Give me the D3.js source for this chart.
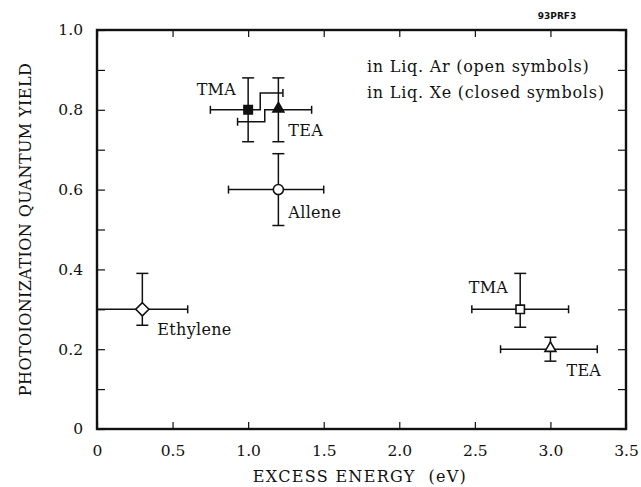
<!DOCTYPE html>
<html>
<head>
<meta charset="utf-8">
<script src="https://cdn.jsdelivr.net/npm/d3@7"></script>
<style>
  body { margin: 0; background: #fff; }
  text { font-family: "DejaVu Serif", serif; fill: #111; }
</style>
</head>
<body>
<svg id="chart"></svg>
<script>
// Data
const compounds = ["Ethylene", "Allene", "TMA", "TEA", "TMA", "TEA"];
const liquid = ["Ar", "Ar", "Xe", "Xe", "Ar", "Ar"];
const symbols = ["diamond", "circle", "square", "triangle", "square", "triangle"];
const excessEnergy = [0.3, 1.2, 1.0, 1.2, 2.8, 3.0];
const energyLow = [0.0, 0.87, 0.75, 0.93, 2.48, 2.67];
const energyHigh = [0.6, 1.5, 1.23, 1.42, 3.12, 3.31];
const quantumYield = [0.3, 0.6, 0.8, 0.8, 0.3, 0.2];
const yieldLow = [0.26, 0.51, 0.72, 0.72, 0.255, 0.17];
const yieldHigh = [0.39, 0.69, 0.88, 0.88, 0.39, 0.23];
// horizontal bars of the Xe points are stepped aside where they overlap
const stepSide = [null, null, "high", "low", null, null];
const stepEnergy = [null, null, 1.08, 1.11, null, null];
const stepYield = [null, null, 0.842, 0.77, null, null];

const xTicks = [0, 0.5, 1.0, 1.5, 2.0, 2.5, 3.0, 3.5];
const yTicks = [0, 0.2, 0.4, 0.6, 0.8, 1.0];
const yMinorTicks = [0.1, 0.3, 0.5, 0.7, 0.9];
const legendLines = ["in Liq. Ar (open symbols)", "in Liq. Xe (closed symbols)"];

const width = 641;
const height = 487;
const margin = { top: 30, right: 15, bottom: 58, left: 97 };

// label offsets (px) relative to each point
const labelPos = [
    { dx: 15, dy: 26, anchor: "start" },
    { dx: 10, dy: 28, anchor: "start" },
    { dx: -12, dy: -15, anchor: "end" },
    { dx: 10, dy: 26, anchor: "start" },
    { dx: -12, dy: -16, anchor: "end" },
    { dx: 16, dy: 27, anchor: "start" }
];

const points = compounds.map((c, i) => ({
    name: c,
    liquid: liquid[i],
    symbol: symbols[i],
    x: excessEnergy[i], xLo: energyLow[i], xHi: energyHigh[i],
    y: quantumYield[i], yLo: yieldLow[i], yHi: yieldHigh[i],
    step: stepSide[i], stepX: stepEnergy[i], stepY: stepYield[i],
    label: labelPos[i]
}));

const svg = d3.select("#chart")
    .attr("width", width)
    .attr("height", height);

const xScale = d3.scaleLinear()
    .domain([0, 3.5])
    .range([margin.left, width - margin.right]);

const yScale = d3.scaleLinear()
    .domain([0, 1.0])
    .range([height - margin.bottom, margin.top]);

const fmt = d => d === 0 ? "0" : d3.format(".1f")(d);

// Axes with inward ticks
svg.append("g")
    .attr("class", "x-axis")
    .attr("transform", `translate(0, ${yScale(0)})`)
    .call(d3.axisBottom(xScale).tickValues(xTicks).tickSizeInner(-7).tickSizeOuter(0).tickPadding(16).tickFormat(fmt));

svg.append("g")
    .attr("class", "x-axis-top")
    .attr("transform", `translate(0, ${yScale(1)})`)
    .call(d3.axisTop(xScale).tickValues(xTicks).tickSizeInner(-7).tickSizeOuter(0).tickFormat(""));

svg.append("g")
    .attr("class", "y-axis")
    .attr("transform", `translate(${xScale(0)}, 0)`)
    .call(d3.axisLeft(yScale).tickValues(yTicks.concat(yMinorTicks)).tickSizeInner(-8).tickSizeOuter(0).tickPadding(14)
        .tickFormat(d => yTicks.includes(d) ? fmt(d) : ""));

svg.append("g")
    .attr("class", "y-axis-right")
    .attr("transform", `translate(${xScale(3.5)}, 0)`)
    .call(d3.axisRight(yScale).tickValues(yTicks.concat(yMinorTicks)).tickSizeInner(-8).tickSizeOuter(0).tickFormat(""));

svg.selectAll(".domain").remove();
svg.selectAll(".tick line").attr("stroke", "#111").attr("stroke-width", 1.2);
svg.selectAll(".tick text").style("font-size", "15.5px").style("font-family", "DejaVu Serif, serif").attr("fill", "#111");

// Frame
svg.append("rect")
    .attr("x", xScale(0))
    .attr("y", yScale(1))
    .attr("width", xScale(3.5) - xScale(0))
    .attr("height", yScale(0) - yScale(1))
    .attr("fill", "none")
    .attr("stroke", "#111")
    .attr("stroke-width", 2.4);

// Error bars
const line = d3.line().x(d => xScale(d[0])).y(d => yScale(d[1]));
const capW = 6, capH = 4;
const bars = svg.append("g").attr("stroke", "#111").attr("stroke-width", 1.5).attr("fill", "none");

points.forEach(p => {
    // vertical bar
    bars.append("path").attr("d", line([[p.x, p.yLo], [p.x, p.yHi]]));
    [p.yLo, p.yHi].forEach(v => {
        bars.append("line")
            .attr("x1", xScale(p.x) - capW).attr("x2", xScale(p.x) + capW)
            .attr("y1", yScale(v)).attr("y2", yScale(v));
    });
    // horizontal bar, both halves
    [["low", p.xLo], ["high", p.xHi]].forEach(([side, end]) => {
        let pts, capY;
        if (p.step === side) {
            pts = [[p.x, p.y], [p.stepX, p.y], [p.stepX, p.stepY], [end, p.stepY]];
            capY = p.stepY;
        } else {
            pts = [[p.x, p.y], [end, p.y]];
            capY = p.y;
        }
        bars.append("path").attr("d", line(pts));
        bars.append("line")
            .attr("x1", xScale(end)).attr("x2", xScale(end))
            .attr("y1", yScale(capY) - capH).attr("y2", yScale(capY) + capH);
    });
});

// Markers
const symbolType = {
    diamond: d3.symbolDiamond2,
    circle: d3.symbolCircle,
    square: d3.symbolSquare2,
    triangle: d3.symbolTriangle2
};
const symbolSize = { diamond: 110, circle: 80, square: 90, triangle: 85 };

svg.append("g")
    .selectAll("path")
    .data(points)
    .enter()
    .append("path")
    .attr("transform", d => `translate(${xScale(d.x)}, ${yScale(d.y) + (d.symbol === "triangle" ? -1 : 0)})`)
    .attr("d", d => d3.symbol(symbolType[d.symbol], symbolSize[d.symbol])())
    .attr("fill", d => d.liquid === "Xe" ? "#111" : "#fff")
    .attr("stroke", "#111")
    .attr("stroke-width", 1.6);

// Point labels
svg.append("g")
    .selectAll("text")
    .data(points)
    .enter()
    .append("text")
    .attr("x", d => xScale(d.x) + d.label.dx)
    .attr("y", d => yScale(d.y) + d.label.dy)
    .attr("text-anchor", d => d.label.anchor)
    .style("font-size", "16px")
    .style("letter-spacing", "0.3px")
    .text(d => d.name);

// Legend text
svg.append("g")
    .selectAll("text")
    .data(legendLines)
    .enter()
    .append("text")
    .attr("x", 367)
    .attr("y", (d, i) => 72 + i * 26)
    .style("font-size", "16px")
    .style("letter-spacing", "0.75px")
    .text(d => d);

// Figure id
svg.append("text")
    .attr("x", 557)
    .attr("y", 19)
    .attr("text-anchor", "middle")
    .style("font-size", "9px")
    .style("font-weight", "bold")
    .style("font-family", "DejaVu Sans, sans-serif")
    .text("93PRF3");

// Axis titles
svg.append("text")
    .attr("x", 360)
    .attr("y", 482)
    .attr("text-anchor", "middle")
    .style("font-size", "16px")
    .style("letter-spacing", "1.3px")
    .attr("xml:space", "preserve")
    .text("EXCESS ENERGY  (eV)");

svg.append("text")
    .attr("transform", `translate(31, ${(yScale(0) + yScale(1)) / 2}) rotate(-90)`)
    .attr("text-anchor", "middle")
    .style("font-size", "16px")
    .style("letter-spacing", "0.4px")
    .text("PHOTOIONIZATION QUANTUM YIELD");
</script>
</body>
</html>
